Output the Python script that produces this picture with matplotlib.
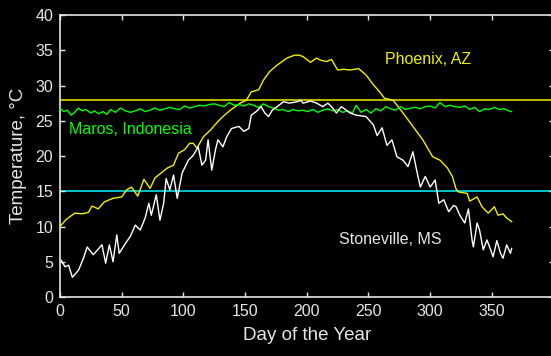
import matplotlib.pyplot as plt
import numpy as np

plt.rcParams['font.family'] = ['Liberation Sans', 'DejaVu Sans']

# Phoenix, AZ daily mean temperature (deg C)
phx_day = [0, 5, 12, 18, 23, 26, 31, 36, 43, 50, 54, 58, 63, 68, 73, 77, 82, 87, 92, 96,
           101, 105, 108, 111, 116, 122, 127, 132, 138, 146, 151, 155, 161, 165, 170, 176,
           184, 190, 194, 197, 203, 208, 211, 216, 220, 225, 230, 235, 242, 248, 254, 259,
           263, 270, 278, 286, 294, 302, 308, 314, 318, 321, 323, 330, 332, 338, 342, 347,
           352, 355, 359, 362, 366]
phx_temp = [10.0, 11.0, 11.9, 11.8, 12.0, 12.9, 12.5, 13.5, 14.0, 14.2, 15.2, 15.6, 14.3,
            16.7, 15.4, 16.9, 17.6, 18.3, 18.7, 20.4, 20.9, 21.8, 21.8, 21.1, 22.7, 23.7,
            24.7, 25.6, 26.5, 27.5, 27.9, 29.1, 29.4, 30.8, 32.0, 32.9, 33.9, 34.3, 34.3,
            34.1, 33.3, 33.9, 33.6, 33.4, 33.7, 32.2, 32.3, 32.2, 32.4, 31.5, 30.1, 29.1,
            28.2, 27.9, 26.1, 24.2, 22.3, 19.9, 19.4, 18.3, 17.1, 15.3, 14.9, 14.7, 13.6,
            14.2, 12.8, 11.9, 12.8, 11.6, 11.8, 11.2, 10.7]

# Maros, Indonesia
mar_day = [0, 3, 6, 9, 12, 15, 18, 21, 25, 28, 31, 35, 38, 41, 45, 49, 53, 57, 61, 65, 69,
           73, 77, 81, 85, 89, 93, 97, 101, 105, 109, 113, 117, 121, 125, 129, 133, 137, 141,
           145, 149, 153, 157, 161, 165, 169, 173, 177, 181, 185, 189, 193, 197, 201, 205,
           209, 213, 217, 221, 225, 229, 233, 237, 240, 244, 248, 252, 256, 260, 264, 268,
           272, 276, 280, 284, 288, 292, 296, 300, 304, 308, 312, 316, 320, 324, 328, 332,
           336, 340, 344, 348, 352, 356, 360, 364, 366]
mar_temp = [26.8, 26.3, 26.5, 25.8, 26.2, 26.8, 26.4, 26.6, 26.1, 26.4, 26.0, 26.3, 25.9,
            26.6, 26.2, 26.8, 26.4, 26.2, 26.4, 26.7, 26.3, 26.5, 26.8, 26.5, 26.7, 26.9,
            26.7, 26.6, 27.1, 26.8, 27.0, 27.2, 27.1, 27.3, 27.4, 27.2, 27.0, 27.6, 27.2,
            27.3, 27.1, 27.4, 27.2, 26.9, 27.4, 27.0, 26.8, 26.5, 26.6, 26.3, 26.6, 26.4,
            26.5, 26.3, 26.6, 26.2, 26.5, 26.7, 26.4, 26.6, 26.2, 26.4, 26.1, 27.2, 26.2,
            26.6, 26.1, 26.7, 26.4, 27.0, 26.7, 26.5, 27.0, 26.6, 26.8, 26.9, 26.7, 27.0,
            27.1, 26.8, 27.6, 27.0, 27.2, 27.0, 26.9, 27.1, 26.6, 26.9, 26.3, 26.7, 26.6,
            26.9, 26.6, 26.7, 26.4, 26.3]

# Stoneville, MS
stv_day = [1, 4, 7, 10, 15, 19, 22, 27, 31, 34, 37, 40, 43, 46, 48, 53, 57, 61, 65, 69, 72,
           74, 78, 81, 84, 86, 89, 92, 95, 99, 104, 108, 112, 115, 118, 120, 123, 126, 128,
           132, 135, 139, 145, 149, 153, 155, 159, 163, 166, 169, 172, 176, 181, 186, 192,
           195, 197, 203, 208, 213, 217, 220, 224, 228, 232, 235, 240, 248, 254, 257, 261,
           265, 269, 273, 278, 282, 286, 289, 292, 296, 300, 304, 307, 311, 315, 319, 321,
           324, 328, 331, 334, 335, 338, 340, 343, 346, 349, 351, 354, 357, 359, 362, 365,
           366]
stv_temp = [5.2, 4.3, 4.5, 2.8, 3.8, 5.5, 7.1, 6.0, 6.8, 7.4, 4.8, 7.4, 5.0, 8.8, 6.2, 7.6,
            8.6, 10.2, 9.5, 11.2, 13.3, 11.6, 14.5, 10.9, 13.3, 16.8, 15.2, 17.3, 14.0, 17.6,
            19.4, 20.1, 21.3, 18.7, 19.4, 22.3, 18.0, 20.9, 22.3, 21.3, 22.7, 23.9, 24.2,
            23.5, 23.9, 25.8, 26.3, 27.0, 26.1, 25.6, 26.5, 27.0, 27.7, 27.5, 27.7, 27.9,
            27.5, 27.8, 27.5, 27.0, 27.5, 27.0, 26.1, 27.0, 26.5, 26.1, 25.8, 25.6, 24.4,
            22.9, 24.0, 21.5, 22.3, 19.9, 19.4, 18.5, 20.6, 18.0, 15.6, 17.1, 15.6, 16.6,
            13.3, 13.8, 12.1, 13.0, 12.8, 11.6, 10.5, 12.5, 8.0, 7.1, 10.5, 9.5, 6.7, 8.1,
            6.7, 5.7, 8.0, 6.2, 5.5, 7.4, 6.2, 6.9]

upper_ref = 28
lower_ref = 15

fg = '#e6e6e6'

fig = plt.figure(figsize=(5.51, 3.56), dpi=100, facecolor='black')
ax = fig.add_axes([0.1089, 0.1657, 0.8958, 0.7921], facecolor='black')

ax.axhline(upper_ref, color='#b4b400', lw=1.5, zorder=1)
ax.axhline(lower_ref, color='#00e5ee', lw=1.2, zorder=1)

ax.plot(phx_day, phx_temp, color='#f0f000', lw=1.0, zorder=3)
ax.plot(mar_day, mar_temp, color='#00ff00', lw=1.0, zorder=3)
ax.plot(stv_day, stv_temp, color='white', lw=1.0, zorder=3)

ax.text(263, 33.7, 'Phoenix, AZ', color='#f0f000', fontsize=11.5, va='center')
ax.text(7, 23.7, 'Maros, Indonesia', color='#00ff00', fontsize=11.5, va='center')
ax.text(226, 8.2, 'Stoneville, MS', color=fg, fontsize=11.5, va='center')

ax.set_xlim(0, 400)
ax.set_ylim(0, 40)
ax.set_xticks(np.arange(0, 351, 50))
ax.set_yticks(np.arange(0, 41, 5))
ax.tick_params(direction='in', top=True, right=True, colors=fg, labelsize=11.5,
               length=3.5, width=1, pad=5)
for s in ax.spines.values():
    s.set_color(fg)
    s.set_linewidth(1.2)

ax.set_xlabel('Day of the Year', color=fg, fontsize=13.5, labelpad=6)
ax.set_ylabel('Temperature, °C', color=fg, fontsize=13.5, labelpad=6)

fig.savefig('out.png', dpi=100, facecolor='black')
